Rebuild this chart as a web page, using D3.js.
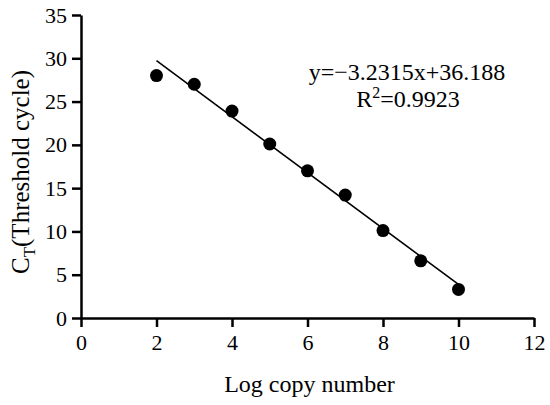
<!DOCTYPE html>
<html>
<head>
<meta charset="utf-8">
<script src="https://cdn.jsdelivr.net/npm/d3@7"></script>
<style>
  body { margin: 0; background: #fff; }
  svg { display: block; font-family: "Liberation Serif", "Times New Roman", serif; }
</style>
</head>
<body>
<svg id="main-chart"></svg>
<script>
// data
const logCopies = [2, 3, 4, 5, 6, 7, 8, 9, 10];
const ctValues = [28.0, 27.0, 23.9, 20.1, 17.0, 14.2, 10.1, 6.6, 3.3];
const slope = -3.2315;
const intercept = 36.188;
const rSquared = "0.9923";
const xTicks = [0, 2, 4, 6, 8, 10, 12];
const yTicks = [0, 5, 10, 15, 20, 25, 30, 35];

const serif = '"Liberation Serif", "Times New Roman", serif';
const width = 550;
const height = 405;
margin = ({top: 15, right: 16, bottom: 87, left: 81});

const svg = d3.select('#main-chart')
  .attr('width', width)
  .attr('height', height);

xScale = d3.scaleLinear()
  .domain([0, 12])
  .range([margin.left, width - margin.right]);
yScale = d3.scaleLinear()
  .domain([0, 35])
  .range([height - margin.bottom, margin.top]);

xAxis = g => g
  .attr("transform", `translate(0,${yScale(0)})`)
  .call(d3.axisBottom(xScale).tickValues(xTicks).tickSize(9).tickPadding(7).tickSizeOuter(0))
  .call(g => g.selectAll("text").style("font-family", serif).style("font-size", "22px"))
  .call(g => g.selectAll("line, path").attr("stroke-width", 2.5));

yAxis = g => g
  .attr("transform", `translate(${xScale(0)},0)`)
  .call(d3.axisLeft(yScale).tickValues(yTicks).tickSize(9).tickPadding(5).tickSizeOuter(0))
  .call(g => g.selectAll("text").style("font-family", serif).style("font-size", "22px"))
  .call(g => g.selectAll("line, path").attr("stroke-width", 2.5));

svg.append("g").call(xAxis);
svg.append("g").call(yAxis);

// regression line
svg.append("line")
  .attr("x1", xScale(d3.min(logCopies)))
  .attr("y1", yScale(slope * d3.min(logCopies) + intercept))
  .attr("x2", xScale(d3.max(logCopies)))
  .attr("y2", yScale(slope * d3.max(logCopies) + intercept))
  .attr("stroke", "#000")
  .attr("stroke-width", 1.6);

svg.selectAll('.dot')
  .data(logCopies)
  .join('circle')
  .attr("class", "dot")
  .attr("cx", d => xScale(d))
  .attr("cy", (d, i) => yScale(ctValues[i]))
  .attr("r", 6.5)
  .attr("fill", "#000");

// equation
svg.append("text")
  .attr("x", 407).attr("y", 80)
  .attr("text-anchor", "middle")
  .attr("font-size", 24)
  .text(`y=\u2212${Math.abs(slope)}x+${intercept}`);

const r2 = svg.append("text")
  .attr("x", 408).attr("y", 107)
  .attr("text-anchor", "middle")
  .attr("font-size", 24);
r2.append("tspan").text("R");
r2.append("tspan").attr("dy", -9).attr("font-size", 16).text("2");
r2.append("tspan").attr("dy", 9).text("=" + rSquared);

// axis titles
svg.append("text")
  .attr("x", (xScale(0) + xScale(12)) / 2 + 2)
  .attr("y", 392)
  .attr("text-anchor", "middle")
  .attr("font-size", 24)
  .text("Log copy number");

const yt = svg.append("text")
  .attr("transform", `translate(29,172) rotate(-90)`)
  .attr("text-anchor", "middle")
  .attr("font-size", 25);
yt.append("tspan").text("C");
yt.append("tspan").attr("dy", 6).attr("font-size", 17).text("T");
yt.append("tspan").attr("dy", -6).text("(Threshold cycle)");
</script>
</body>
</html>
